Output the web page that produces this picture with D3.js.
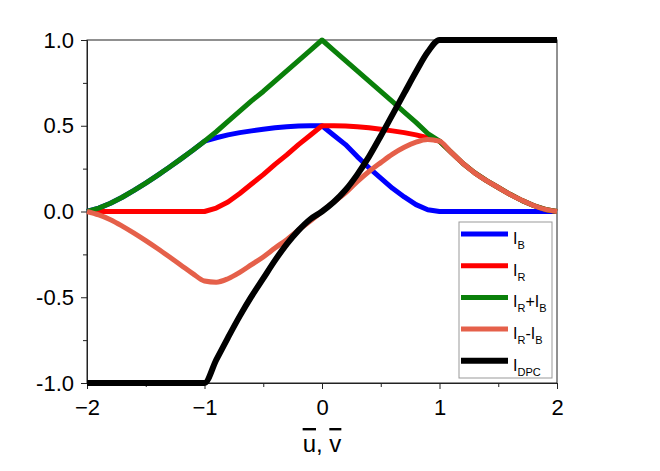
<!DOCTYPE html>
<html>
<head>
<meta charset="utf-8">
<script src="https://cdn.jsdelivr.net/npm/d3@7"></script>
<style>
  body { margin: 0; background: #fff; }
  svg { display: block; font-family: "Liberation Sans", Arial, sans-serif; }
</style>
</head>
<body>
<div id="chart"></div>
<script>
// u values along the x axis
const u = [-2.0, -1.9, -1.8, -1.7, -1.6, -1.5, -1.4, -1.3, -1.2, -1.1, -1.0,
           -0.9, -0.8, -0.7, -0.6, -0.5, -0.4, -0.3, -0.2, -0.1, 0.0,
            0.1, 0.2, 0.3, 0.4, 0.5, 0.6, 0.7, 0.8, 0.9, 1.0,
            1.1, 1.2, 1.3, 1.4, 1.5, 1.6, 1.7, 1.8, 1.9, 2.0];

const iB = [0, 0.02, 0.048, 0.083, 0.123, 0.166, 0.211, 0.258, 0.307, 0.357, 0.41,
            0.43, 0.447, 0.46, 0.47, 0.48, 0.488, 0.494, 0.498, 0.5, 0.5,
            0.445, 0.39, 0.32, 0.255, 0.195, 0.135, 0.085, 0.04, 0.01, 0,
            0, 0, 0, 0, 0, 0, 0, 0, 0, 0];

const iR = [0, 0, 0, 0, 0, 0, 0, 0, 0, 0, 0,
            0.02, 0.055, 0.105, 0.16, 0.215, 0.275, 0.33, 0.39, 0.445, 0.5,
            0.5, 0.498, 0.494, 0.488, 0.48, 0.47, 0.46, 0.447, 0.43, 0.41,
            0.345, 0.28, 0.225, 0.18, 0.14, 0.1, 0.065, 0.035, 0.012, 0];

const iSum = [0, 0.02, 0.048, 0.083, 0.123, 0.166, 0.211, 0.258, 0.307, 0.357, 0.41,
              0.465, 0.525, 0.585, 0.645, 0.70, 0.76, 0.82, 0.88, 0.94, 1.0,
              0.94, 0.88, 0.82, 0.76, 0.70, 0.64, 0.58, 0.52, 0.455, 0.41,
              0.345, 0.28, 0.225, 0.18, 0.14, 0.1, 0.065, 0.035, 0.012, 0];

const iDiff = [0, -0.02, -0.048, -0.085, -0.126, -0.17, -0.216, -0.264, -0.313, -0.362, -0.405,
               -0.412, -0.392, -0.355, -0.31, -0.265, -0.213, -0.164, -0.108, -0.055, 0,
               0.055, 0.108, 0.174, 0.233, 0.285, 0.335, 0.375, 0.405, 0.42, 0.41,
               0.345, 0.28, 0.225, 0.18, 0.14, 0.1, 0.065, 0.035, 0.012, 0];

const iDPC = [-1, -1, -1, -1, -1, -1, -1, -1, -1, -1, -1,
              -0.865, -0.735, -0.61, -0.495, -0.39, -0.285, -0.19, -0.11, -0.045, 0,
              0.055, 0.125, 0.215, 0.32, 0.44, 0.565, 0.69, 0.815, 0.93, 1.0,
              1, 1, 1, 1, 1, 1, 1, 1, 1, 1];

const seriesNames = ["I_B", "I_R", "I_R+I_B", "I_R-I_B", "I_DPC"];
const seriesColors = ["#0000ff", "#ff0000", "#0a800a", "#e5604a", "#000000"];
const seriesValues = [iB, iR, iSum, iDiff, iDPC];

const xTicks = [-2, -1, 0, 1, 2];
const xMinor = [-1.5, -0.5, 0.5, 1.5];
const yTicks = [-1.0, -0.5, 0.0, 0.5, 1.0];
const yMinor = [-0.75, -0.25, 0.25, 0.75];

const W = 660, H = 471;
const margin = {top: 40, right: 103, bottom: 88, left: 87};
const width = W - margin.left - margin.right;
const height = H - margin.top - margin.bottom;

const svg = d3.select("#chart").append("svg")
    .attr("width", W)
    .attr("height", H);

const g = svg.append("g")
    .attr("transform", `translate(${margin.left},${margin.top})`);

const x = d3.scaleLinear().domain([-2, 2]).range([0, width]);
const y = d3.scaleLinear().domain([-1, 1]).range([height, 0]);

// frame
g.append("rect")
    .attr("width", width)
    .attr("height", height)
    .attr("fill", "none")
    .attr("stroke", "#222")
    .attr("stroke-width", 1);

// axes
g.append("g")
    .attr("transform", `translate(0,${height})`)
    .call(d3.axisBottom(x).tickValues(xTicks).tickSize(6).tickSizeOuter(0).tickPadding(10)
        .tickFormat(d3.format("d")));
g.append("g")
    .attr("transform", `translate(0,${height})`)
    .call(d3.axisBottom(x).tickValues(xMinor).tickSize(4).tickSizeOuter(0).tickFormat(""));

g.append("g")
    .call(d3.axisLeft(y).tickValues(yTicks).tickSize(6).tickSizeOuter(0).tickPadding(7)
        .tickFormat(d => d.toFixed(1)));
g.append("g")
    .call(d3.axisLeft(y).tickValues(yMinor).tickSize(4).tickSizeOuter(0).tickFormat(""));

g.selectAll(".domain").attr("stroke", "#222");
g.selectAll(".tick line").attr("stroke", "#222");
g.selectAll(".tick text")
    .style("font-size", "22px")
    .style("font-family", "'Liberation Sans', Arial, sans-serif")
    .attr("fill", "#000");

// x-axis title with overlines
const title = g.append("text")
    .attr("x", width / 2)
    .attr("y", height + 69)
    .attr("text-anchor", "middle")
    .style("font-size", "24px");
title.append("tspan").style("text-decoration", "overline").text("u");
title.append("tspan").text(", ");
title.append("tspan").style("text-decoration", "overline").text("v");

// curves: black and coral are smooth, the others keep their corners
const lineStraight = d3.line()
    .x((d, i) => x(u[i]))
    .y(d => y(d));
const lineSmooth = d3.line()
    .x((d, i) => x(u[i]))
    .y(d => y(d))
    .curve(d3.curveMonotoneX);

seriesValues.forEach((vals, k) => {
    g.append("path")
        .datum(vals)
        .attr("d", (k === 3 || k === 4) ? lineSmooth : lineStraight)
        .attr("fill", "none")
        .attr("stroke", seriesColors[k])
        .attr("stroke-width", k === 4 ? 6 : 5)
        .attr("stroke-linejoin", "round");
});

// legend
const legend = svg.append("g")
    .attr("transform", "translate(459,222)");

legend.append("rect")
    .attr("width", 93)
    .attr("height", 156)
    .attr("fill", "#fff")
    .attr("stroke", "#999")
    .attr("stroke-width", 1);

seriesNames.forEach((name, k) => {
    const ly = 12 + k * 31.7;
    legend.append("line")
        .attr("x1", 2).attr("x2", 49)
        .attr("y1", ly).attr("y2", ly)
        .attr("stroke", seriesColors[k])
        .attr("stroke-width", k === 4 ? 6 : 5);

    const t = legend.append("text")
        .attr("x", 54)
        .attr("y", ly + 10)
        .style("font-size", "16px");
    // "I_X" parts with subscripts, joined by + or -
    const parts = name.split(/([+-])/);
    let lowered = false;
    parts.forEach(p => {
        if (p === "+" || p === "-") {
            t.append("tspan").attr("dy", lowered ? -5 : 0).text(p);
            lowered = false;
        } else {
            const [main, sub] = p.split("_");
            t.append("tspan").attr("dy", lowered ? -5 : 0).text(main);
            t.append("tspan").attr("dy", 5).style("font-size", "11px").text(sub);
            lowered = true;
        }
    });
});
</script>
</body>
</html>
